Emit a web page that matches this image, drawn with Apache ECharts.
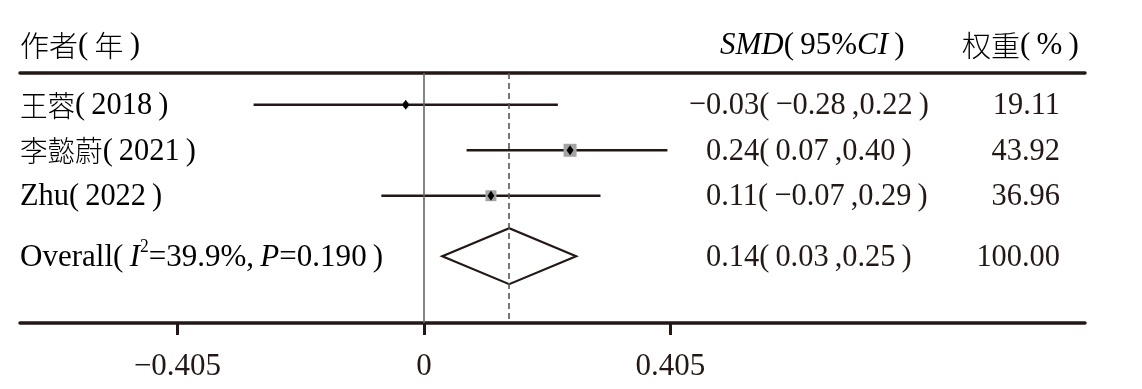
<!DOCTYPE html>
<html>
<head>
<meta charset="utf-8">
<script src="https://cdn.jsdelivr.net/npm/echarts@6/dist/echarts.min.js"></script>
<style>html,body{margin:0;padding:0;background:#fff}#c{width:1142px;height:389px}</style>
</head>
<body>
<div id="c"></div>
<script>
// ---- data ----
const studies = ['王蓉', '李懿蔚', 'Zhu'];
const years = [2018, 2021, 2022];
const smd = [-0.03, 0.24, 0.11];
const ciLow = [-0.28, 0.07, -0.07];
const ciHigh = [0.22, 0.40, 0.29];
const weights = [19.11, 43.92, 36.96];
const overallSmd = [0.14];
const overallLow = [0.03];
const overallHigh = [0.25];
const overallWeight = [100.00];
const overallI2 = [39.9];
const overallP = [0.190];
const xTicks = [-0.405, 0, 0.405];

// ---- layout ----
const ROW_POS = [1, 2, 3];
const OVERALL_POS = 4.33;
const INK = '#231815';
const LATIN = "'Liberation Serif', 'Times New Roman', serif";
const CJK = "'Noto Sans CJK SC', sans-serif";
const FS = 32;
const SX = 0.95;
const COL_SMD = 706;
const COL_W = 1060;

function fmt(v) { return v.toFixed(2).replace('-', '\u2212'); }
function fmtTick(v) { return v === 0 ? '0' : String(v).replace('-', '\u2212'); }

const rich = {
  c: { fontFamily: CJK, fontSize: 29, fontWeight: 300, color: INK, lineHeight: 38 },
  l: { fontFamily: LATIN, fontSize: FS, color: INK, lineHeight: 38 },
  i: { fontFamily: LATIN, fontSize: FS, fontStyle: 'italic', color: INK, lineHeight: 38 },
  sup: { fontFamily: LATIN, fontSize: 18, color: INK, lineHeight: 18, verticalAlign: 'top' },
  h: { fontFamily: CJK, fontSize: 29, fontWeight: 300, color: INK, lineHeight: 38 },
  hl: { fontFamily: LATIN, fontSize: 31, color: INK, lineHeight: 38 },
  hi: { fontFamily: LATIN, fontSize: 31, fontStyle: 'italic', color: INK, lineHeight: 38 }
};

function isCJK(s) { return /[\u4e00-\u9fff]/.test(s); }
function studyLabel(i) {
  const n = studies[i];
  return (isCJK(n) ? '{c|' + n + '}' : '{l|' + n + '}') + '{l|(\u2009' + years[i] + '\u2009)}';
}

const studyData = studies.map((s, i) => [smd[i], ciLow[i], ciHigh[i], ROW_POS[i], weights[i]]);
const overallData = [[overallSmd[0], overallLow[0], overallHigh[0], OVERALL_POS, overallWeight[0]]];

const chart = echarts.init(document.getElementById('c'), null, { renderer: 'canvas' });

function txt(x, y, text, align) {
  return { type: 'text', x: x, y: y, scaleX: SX,
    style: { text: text, x: 0, y: 0, align: align, verticalAlign: 'middle', fontFamily: LATIN, fontSize: FS, fill: INK } };
}

chart.setOption({
  animation: false,
  backgroundColor: '#fff',
  grid: { left: 20, right: 57, top: 73, bottom: 66, containLabel: false },
  xAxis: [
    {
      type: 'value', min: -0.6638, max: 1.0861, position: 'bottom',
      splitLine: { show: false },
      axisLine: { show: true, onZero: false, lineStyle: { color: INK, width: 3.5 } },
      axisTick: { show: true, customValues: xTicks, length: 12, lineStyle: { color: INK, width: 3 } },
      axisLabel: { show: true, customValues: xTicks, formatter: fmtTick, margin: 28,
        fontFamily: LATIN, fontSize: 31, color: INK, showMinLabel: true, showMaxLabel: true }
    },
    {
      type: 'value', min: -0.6638, max: 1.0861, position: 'top',
      splitLine: { show: false },
      axisLine: { show: true, onZero: false, lineStyle: { color: INK, width: 3.5 } },
      axisTick: { show: false }, axisLabel: { show: false }
    }
  ],
  yAxis: { type: 'value', inverse: true, min: 0.3, max: 5.8, show: false },
  graphic: [
    { type: 'text', left: 20, top: 30, style: { text: '{h|作者}{hl|(\u2009}{h|年}{hl|\u2009)}', rich } },
    { type: 'text', left: 720, top: 30, style: { text: '{hi|SMD}{hl|(\u200995%}{hi|CI}{hl|\u2009)}', rich } },
    { type: 'text', left: 962, top: 30, style: { text: '{h|权重}{hl|(\u2009%\u2009)}', rich } }
  ],
  series: [
    {
      type: 'custom', name: 'studies', xAxisIndex: 0, data: studyData,
      renderItem(params, api) {
        const est = api.value(0), lo = api.value(1), hi = api.value(2), pos = api.value(3), w = api.value(4);
        const pe = api.coord([est, pos]);
        const pl = api.coord([lo, pos]);
        const ph = api.coord([hi, pos]);
        const side = w * 0.296;
        return {
          type: 'group',
          children: [
            { type: 'line', shape: { x1: pl[0], y1: pl[1], x2: ph[0], y2: ph[1] },
              style: { stroke: INK, lineWidth: 2.6 } },
            { type: 'rect', shape: { x: pe[0] - side / 2, y: pe[1] - side / 2, width: side, height: side },
              style: { fill: '#a4a4a4' } },
            { type: 'polygon', shape: { points: [[pe[0] - 3.5, pe[1]], [pe[0], pe[1] - 5], [pe[0] + 3.5, pe[1]], [pe[0], pe[1] + 5]] },
              style: { fill: '#000' } }
          ]
        };
      },
      markLine: {
        silent: true, symbol: 'none', label: { show: false },
        data: [
          { xAxis: 0, lineStyle: { color: '#666', width: 1.6, type: 'solid' } },
          { xAxis: overallSmd[0], lineStyle: { color: '#555', width: 1.6, type: [6, 4] } }
        ]
      },
      z: 3
    },
    {
      type: 'custom', name: 'overall', data: overallData,
      renderItem(params, api) {
        const est = api.value(0), lo = api.value(1), hi = api.value(2), pos = api.value(3);
        const pe = api.coord([est, pos]);
        const pl = api.coord([lo, pos]);
        const ph = api.coord([hi, pos]);
        const hh = 28;
        return {
          type: 'polygon',
          shape: { points: [[pl[0], pl[1]], [pe[0], pe[1] - hh], [ph[0], ph[1]], [pe[0], pe[1] + hh]] },
          style: { fill: 'rgba(255,255,255,0)', stroke: INK, lineWidth: 2.2, lineJoin: 'miter' }
        };
      },
      z: 4
    },
    {
      type: 'custom', name: 'texts',
      data: studies.map((s, i) => [i, ROW_POS[i]]).concat([[-1, OVERALL_POS]]),
      renderItem(params, api) {
        const idx = api.value(0), pos = api.value(1);
        const y = api.coord([0, pos])[1] + 1;
        let label, e, lo, hi, w, sx = SX;
        if (idx >= 0) {
          label = studyLabel(idx); e = smd[idx]; lo = ciLow[idx]; hi = ciHigh[idx]; w = weights[idx];
        } else {
          label = '{l|Overall(\u2009}{i|I}{sup|2}{l|=' + overallI2[0].toFixed(1) + '%,\u2009}{i|P}{l|=' + overallP[0].toFixed(3) + '\u2009)}';
          e = overallSmd[0]; lo = overallLow[0]; hi = overallHigh[0]; w = overallWeight[0]; sx = 0.97;
        }
        const s = fmt(e) + '(\u2009' + fmt(lo) + '\u2009,' + fmt(hi) + '\u2009)';
        const children = [
          { type: 'text', x: 20, y: y, scaleX: sx,
            style: { text: label, rich, x: 0, y: 0, verticalAlign: 'middle', align: 'left' } }
        ];
        let body = s;
        if (s.charAt(0) === '\u2212') {
          body = s.slice(1);
          children.push(txt(COL_SMD, y, '\u2212', 'right'));
        }
        children.push(txt(COL_SMD, y, body, 'left'));
        children.push(txt(COL_W, y, w.toFixed(2), 'right'));
        return { type: 'group', children };
      },
      z: 5
    }
  ]
});
</script>
</body>
</html>
